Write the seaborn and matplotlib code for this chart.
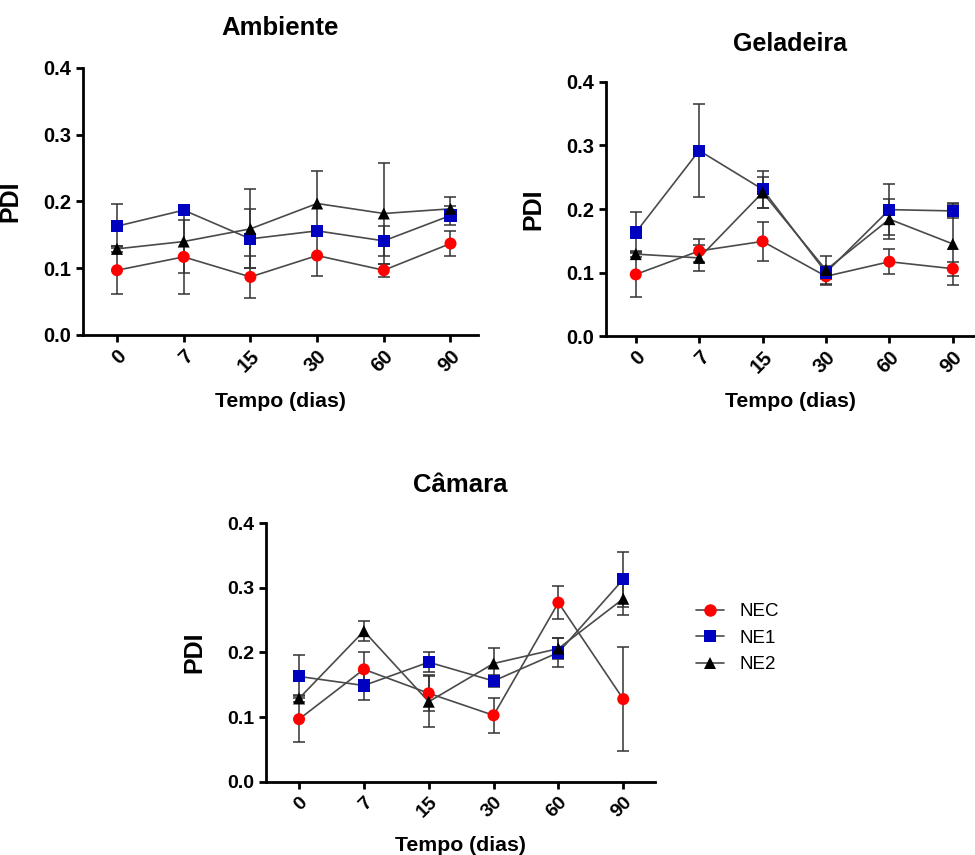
"""PDI over storage time for three nanoemulsions in three storage conditions."""

import numpy as np
import pandas as pd

import matplotlib
matplotlib.use("Agg")
import matplotlib.pyplot as plt
from matplotlib.lines import Line2D
import seaborn as sns

# ---------------------------------------------------------------------------
# Data (mean, sd)
# ---------------------------------------------------------------------------

days = ["0", "7", "15", "30", "60", "90"]
groups = ["NEC", "NE1", "NE2"]

amb_nec = [0.097, 0.117, 0.087, 0.119, 0.097, 0.137]
amb_nec_sd = [0.036, 0.055, 0.032, 0.030, 0.010, 0.019]
amb_ne1 = [0.163, 0.187, 0.144, 0.156, 0.141, 0.179]
amb_ne1_sd = [0.033, 0.003, 0.044, 0.004, 0.022, 0.014]
amb_ne2 = [0.129, 0.140, 0.159, 0.197, 0.182, 0.189]
amb_ne2_sd = [0.005, 0.047, 0.059, 0.048, 0.076, 0.018]

gel_nec = [0.097, 0.134, 0.149, 0.094, 0.117, 0.106]
gel_nec_sd = [0.036, 0.018, 0.031, 0.013, 0.020, 0.011]
gel_ne1 = [0.163, 0.292, 0.231, 0.100, 0.199, 0.197]
gel_ne1_sd = [0.033, 0.073, 0.029, 0.010, 0.040, 0.011]
gel_ne2 = [0.129, 0.123, 0.226, 0.104, 0.184, 0.145]
gel_ne2_sd = [0.005, 0.021, 0.025, 0.022, 0.032, 0.065]

cam_nec = [0.097, 0.174, 0.137, 0.103, 0.277, 0.128]
cam_nec_sd = [0.036, 0.027, 0.028, 0.027, 0.026, 0.080]
cam_ne1 = [0.163, 0.149, 0.185, 0.156, 0.200, 0.313]
cam_ne1_sd = [0.033, 0.023, 0.015, 0.010, 0.022, 0.042]
cam_ne2 = [0.129, 0.233, 0.124, 0.183, 0.206, 0.283]
cam_ne2_sd = [0.005, 0.016, 0.039, 0.024, 0.016, 0.025]

# ---------------------------------------------------------------------------
# Styling
# ---------------------------------------------------------------------------

sns.set_theme(style="ticks")
plt.rcParams["font.family"] = ["Liberation Sans", "DejaVu Sans"]
plt.rcParams.update({
    "axes.linewidth": 2.0,
    "xtick.major.width": 2.0,
    "ytick.major.width": 2.0,
    "xtick.major.size": 5,
    "ytick.major.size": 5,
    "xtick.color": "black",
    "ytick.color": "black",
    "axes.edgecolor": "black",
    "axes.labelcolor": "black",
    "text.color": "black",
})

COLORS = {"NEC": "#ff0000", "NE1": "#0000c0", "NE2": "#000000"}
MARKERS = {"NEC": "o", "NE1": "s", "NE2": "^"}
LINE_COLOR = "#4a4a4a"


def make_frame(nec, nec_sd, ne1, ne1_sd, ne2, ne2_sd):
    rows = []
    for g, m, s in [("NEC", nec, nec_sd), ("NE1", ne1, ne1_sd), ("NE2", ne2, ne2_sd)]:
        for i, d in enumerate(days):
            rows.append({"group": g, "day": d, "pos": i, "pdi": m[i], "sd": s[i]})
    return pd.DataFrame(rows)


def draw_panel(ax, df, title, title_pad, fs_tick, fs_ylab, fs_title, xlim, ylab_x, xlab_y):
    sns.lineplot(data=df, x="pos", y="pdi", units="group", estimator=None,
                 color=LINE_COLOR, linewidth=1.2, ax=ax, zorder=2)
    for g in groups:
        sub = df[df["group"] == g]
        ax.errorbar(sub["pos"], sub["pdi"], yerr=sub["sd"], fmt="none",
                    ecolor="#333333", elinewidth=1.1, capsize=4.5, capthick=1.1, zorder=1)
    sns.scatterplot(data=df, x="pos", y="pdi", hue="group", style="group",
                    palette=COLORS, markers=MARKERS, s=75, linewidth=0,
                    legend=False, ax=ax, zorder=3)

    ax.set_xlim(*xlim)
    ax.set_ylim(0, 0.4)
    ax.set_yticks([0.0, 0.1, 0.2, 0.3, 0.4])
    ax.set_yticklabels(["0.0", "0.1", "0.2", "0.3", "0.4"], fontsize=fs_tick, fontweight="bold")
    ax.set_xticks(range(len(days)))
    ax.set_xticklabels(days, rotation=45, ha="right", rotation_mode="anchor",
                       fontsize=fs_tick, fontweight="bold")
    sns.despine(ax=ax)
    ax.spines["left"].set_bounds(0, 0.4)

    ax.set_ylabel("PDI", fontsize=fs_ylab, fontweight="bold")
    ax.set_xlabel("Tempo (dias)", fontsize=15.3, fontweight="bold")
    ax.yaxis.set_label_coords(ylab_x, 0.5)
    ax.xaxis.set_label_coords(0.5, xlab_y)
    ax.set_title(title, fontsize=fs_title, fontweight="bold", pad=title_pad)


# ---------------------------------------------------------------------------
# Figure
# ---------------------------------------------------------------------------

fig = plt.figure(figsize=(9.75, 8.55), dpi=100)

ax1 = fig.add_axes([0.0851, 0.6082, 0.405, 0.3123])
ax2 = fig.add_axes([0.6215, 0.6070, 0.3785, 0.2971])
ax3 = fig.add_axes([0.2728, 0.0854, 0.3990, 0.3029])

draw_panel(ax1, make_frame(amb_nec, amb_nec_sd, amb_ne1, amb_ne1_sd, amb_ne2, amb_ne2_sd),
           "Ambiente", 24, 14.5, 18, 18.5, (-0.51, 5.41), -0.154, -0.215)
draw_panel(ax2, make_frame(gel_nec, gel_nec_sd, gel_ne1, gel_ne1_sd, gel_ne2, gel_ne2_sd),
           "Geladeira", 22, 14.5, 18, 18, (-0.47, 5.35), -0.163, -0.22)
draw_panel(ax3, make_frame(cam_nec, cam_nec_sd, cam_ne1, cam_ne1_sd, cam_ne2, cam_ne2_sd),
           "Câmara", 22, 14, 18, 18.5, (-0.51, 5.49), -0.152, -0.21)

handles = [
    Line2D([], [], color=LINE_COLOR, linewidth=1.2, marker=MARKERS[g],
           markerfacecolor=COLORS[g], markeredgewidth=0, markersize=9)
    for g in groups
]
fig.legend(handles, groups, loc="center left", bbox_to_anchor=(0.714, 0.2538),
           frameon=False, fontsize=13.5, handlelength=1.5, handletextpad=0.8,
           labelspacing=0.5, borderpad=0, borderaxespad=0)

fig.savefig("out.png", dpi=100)
